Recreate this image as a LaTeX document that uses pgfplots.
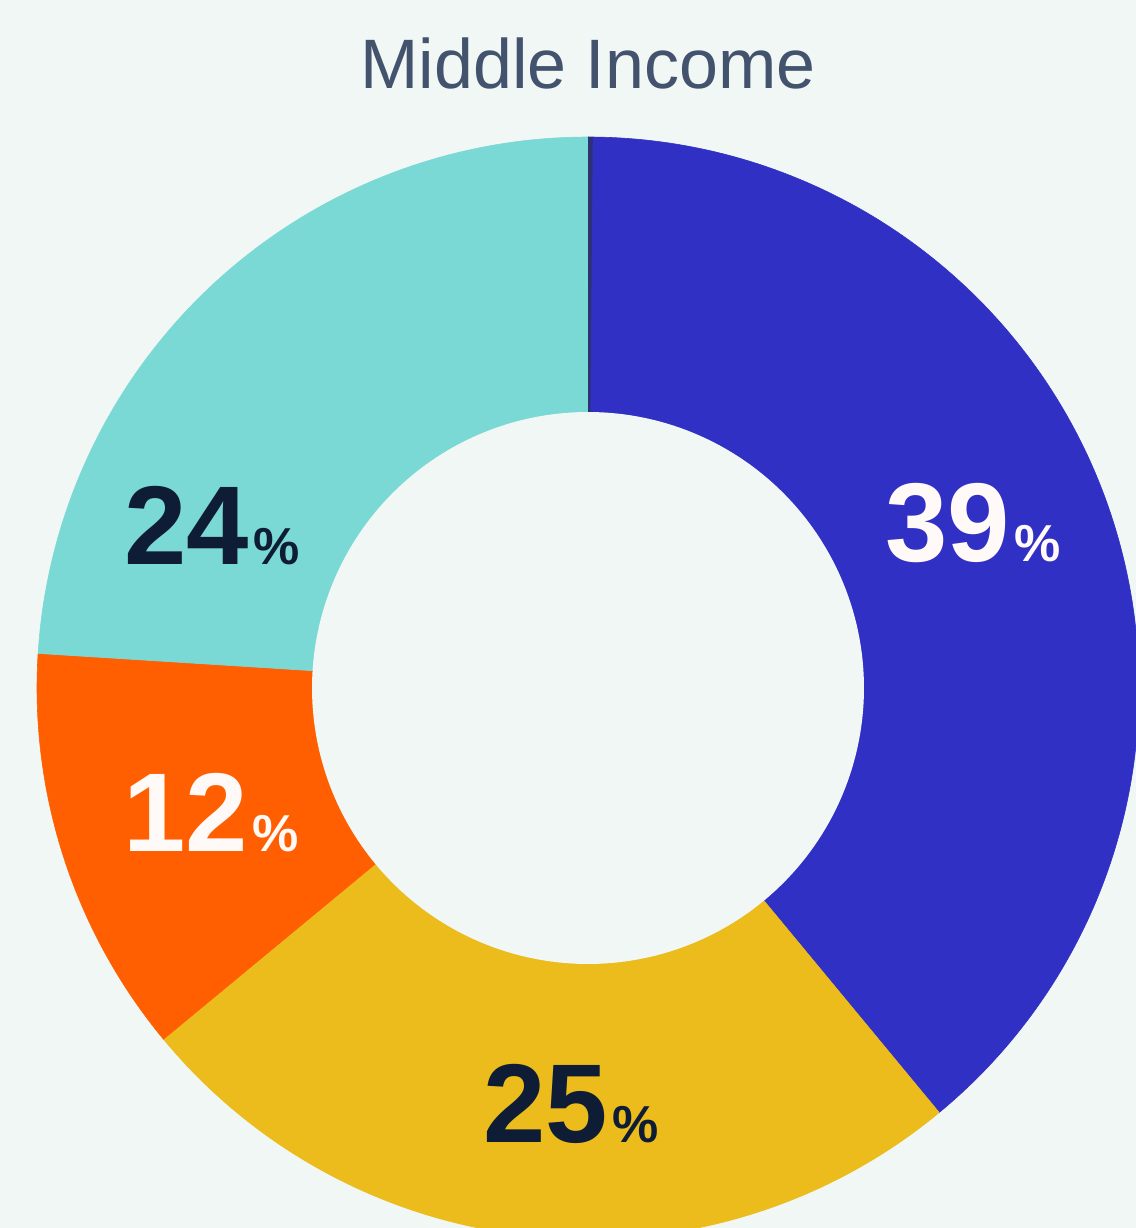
\documentclass[border=0pt]{standalone}
\usepackage{pgfplots}
\pgfplotsset{compat=1.18}
\usepackage{fontspec}
\setmainfont{Liberation Sans}
\definecolor{bg}{HTML}{F0F7F4}
\definecolor{cblue}{HTML}{3130C4}
\definecolor{cyellow}{HTML}{EBBC1C}
\definecolor{corange}{HTML}{FF5F00}
\definecolor{cteal}{HTML}{7AD9D4}
\definecolor{cnavy}{HTML}{2E3272}
\definecolor{ctitle}{HTML}{43536E}
\definecolor{cdark}{HTML}{0E1C36}
\definecolor{cwhite}{HTML}{FFF9F7}
\newcommand{\pct}[1]{\fontsize{56}{60}\selectfont\bfseries #1\hspace{2.5pt}\fontsize{26}{30}\selectfont\%}
% slices: start angle and end angle (degrees clockwise from top) = cumulative share x 3.6
% Blue 39%, Yellow 25%, Orange 12%, Teal 24%, tiny navy sliver ~0.14%
\begin{document}
\begin{tikzpicture}
\fill[bg] (0,0) rectangle (568pt,614pt);
\useasboundingbox (0,0) rectangle (568pt,614pt);
\begin{axis}[
  at={(0,0)}, anchor=south west,
  scale only axis, width=568pt, height=614pt,
  xmin=0, xmax=1136, ymin=0, ymax=1228,
  hide axis, clip=true,
]
% Blue 39% : 0 -> 140.4
\addplot[fill=cblue, draw=cblue, line width=0.3pt, domain=0:140.4, samples=150]
  ({588+551*sin(x)},{540+551*cos(x)}) -- (588,540) -- cycle;
% Yellow 25% : 140.4 -> 230.4
\addplot[fill=cyellow, draw=cyellow, line width=0.3pt, domain=140.4:230.4, samples=100]
  ({588+551*sin(x)},{540+551*cos(x)}) -- (588,540) -- cycle;
% Orange 12% : 230.4 -> 273.6
\addplot[fill=corange, draw=corange, line width=0.3pt, domain=230.4:273.6, samples=60]
  ({588+551*sin(x)},{540+551*cos(x)}) -- (588,540) -- cycle;
% Teal 24% : 273.6 -> 360
\addplot[fill=cteal, draw=cteal, line width=0.3pt, domain=273.6:360, samples=100]
  ({588+551*sin(x)},{540+551*cos(x)}) -- (588,540) -- cycle;
% tiny navy sliver
\addplot[fill=cnavy, draw=none, domain=0:0.5, samples=3]
  ({588+551*sin(x)},{540+551*cos(x)}) -- (588,540) -- cycle;
% hole
\addplot[fill=bg, draw=none, domain=0:360, samples=240]
  ({588+276*sin(x)},{540+276*cos(x)}) -- cycle;
% labels
\node[anchor=base, text=ctitle, font=\fontsize{35}{40}\selectfont] at (axis cs:588,1139) {Middle Income};
\node[anchor=base, text=cwhite, inner sep=0pt] at (axis cs:973,666) {\pct{39}};
\node[anchor=base, text=cdark, inner sep=0pt] at (axis cs:212,663) {\pct{24}};
\node[anchor=base, text=cwhite, inner sep=0pt] at (axis cs:211,376) {\pct{12}};
\node[anchor=base, text=cdark, inner sep=0pt] at (axis cs:571,85) {\pct{25}};
\end{axis}
\end{tikzpicture}
\end{document}
